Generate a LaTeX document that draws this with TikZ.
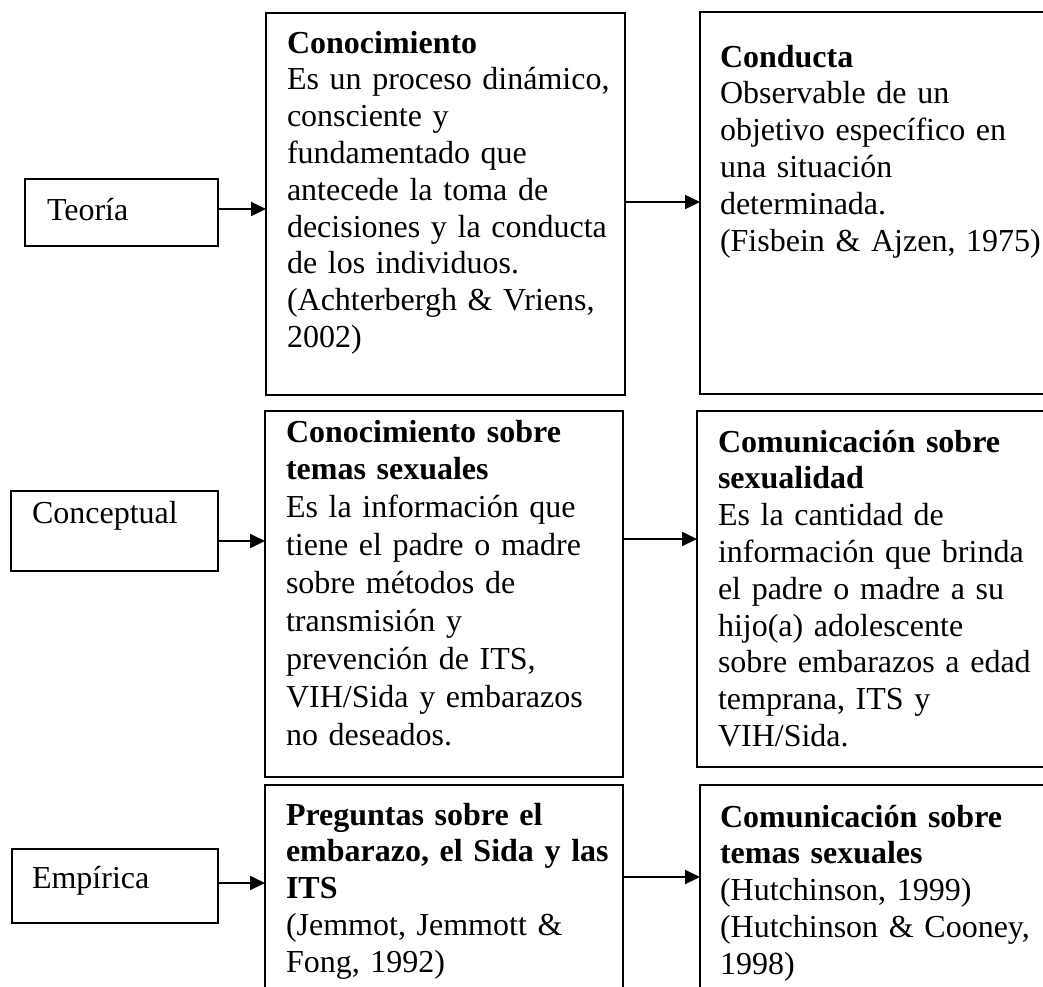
\documentclass[tikz,border=0pt]{standalone}
\usepackage{fontspec}
\setmainfont{Liberation Serif}
\usetikzlibrary{arrows.meta}

\begin{document}
\begin{tikzpicture}[x=1pt, y=-1pt,
  every node/.style={font=\fontsize{32}{36.8}\selectfont},
  nivel/.style={draw, line width=1.5pt, anchor=north west, align=left, outer sep=0pt, inner ysep=0pt},
  cuadro/.style={draw, line width=1.5pt, anchor=north west, align=left, outer sep=0pt, inner xsep=21pt, inner ysep=0pt,
    execute at begin node={\rightskip=0pt minus 40pt\hyphenpenalty=10000}},
  flecha/.style={-{Triangle[length=15pt, width=14pt]}, line width=2pt}]
  \useasboundingbox (0,0) rectangle (1043,986);
  \clip (0,0) rectangle (1043,986);

  \node[nivel, inner xsep=22pt, text width=149pt, text height=41pt, text depth=26pt] (teoria) at (25,179) {Teoría};
  \node[nivel, inner xsep=21pt, text width=165pt, text height=32pt, text depth=48pt] (conceptual) at (11,491) {Conceptual};
  \node[nivel, inner xsep=20pt, text width=166pt, text height=39pt, text depth=35pt] (empirica) at (12,849) {Empírica};

  \node[cuadro, text width=317pt, text height=40pt, text depth=342pt] (conoc) at (266,13)
    {\textbf{Conocimiento}\\Es un proceso dinámico,\\consciente y\\fundamentado que\\antecede la toma de\\decisiones y la conducta\\de los individuos.\\(Achterbergh \& Vriens,\\2002)};
  \node[cuadro, font=\fontsize{32}{37.9}\selectfont, text width=316pt, text height=31pt, text depth=335pt] (conoctemas) at (265,411)
    {\textbf{Conocimiento sobre}\\\textbf{temas sexuales}\\Es la información que\\tiene el padre o madre\\sobre métodos de\\transmisión y\\prevención de ITS,\\VIH/Sida y embarazos\\no deseados.};
  \node[cuadro, text width=316pt, text height=40pt, text depth=175pt] (preguntas) at (265,785)
    {\textbf{Preguntas sobre el}\\\textbf{embarazo, el Sida y las}\\\textbf{ITS}\\(Jemmot, Jemmott \&\\Fong, 1992)};

  \node[cuadro, inner xsep=20pt, text width=320pt, text height=55pt, text depth=327pt] (conducta) at (700,12)
    {\textbf{Conducta}\\Observable de un\\objetivo específico en\\una situación\\determinada.\\(Fisbein \& Ajzen, 1975)};
  \node[cuadro, text width=321pt, text height=41pt, text depth=315pt] (comsex) at (697,411)
    {\textbf{Comunicación sobre}\\\textbf{sexualidad}\\Es la cantidad de\\información que brinda\\el padre o madre a su\\hijo(a) adolescente\\sobre embarazos a edad\\temprana, ITS y\\VIH/Sida.};
  \node[cuadro, inner xsep=20pt, text width=320pt, text height=42pt, text depth=173pt] (comtemas) at (700,785)
    {\textbf{Comunicación sobre}\\\textbf{temas sexuales}\\(Hutchinson, 1999)\\(Hutchinson \& Cooney,\\1998)};

  \draw[flecha] ([yshift=3.5pt]teoria.east) -- ([yshift=3.5pt]teoria.east -| conoc.west);
  \draw[flecha] ([yshift=2pt]conoc.east) -- ([yshift=2pt]conoc.east -| conducta.west);
  \draw[flecha] ([yshift=-10pt]conceptual.east) -- ([yshift=-10pt]conceptual.east -| conoctemas.west);
  \draw[flecha] ([yshift=55pt]conoctemas.east) -- ([yshift=55pt]conoctemas.east -| comsex.west);
  \draw[flecha] ([yshift=3pt]empirica.east) -- ([yshift=3pt]empirica.east -| preguntas.west);
  \draw[flecha] ([yshift=15.5pt]preguntas.east) -- ([yshift=15.5pt]preguntas.east -| comtemas.west);
\end{tikzpicture}
\end{document}
